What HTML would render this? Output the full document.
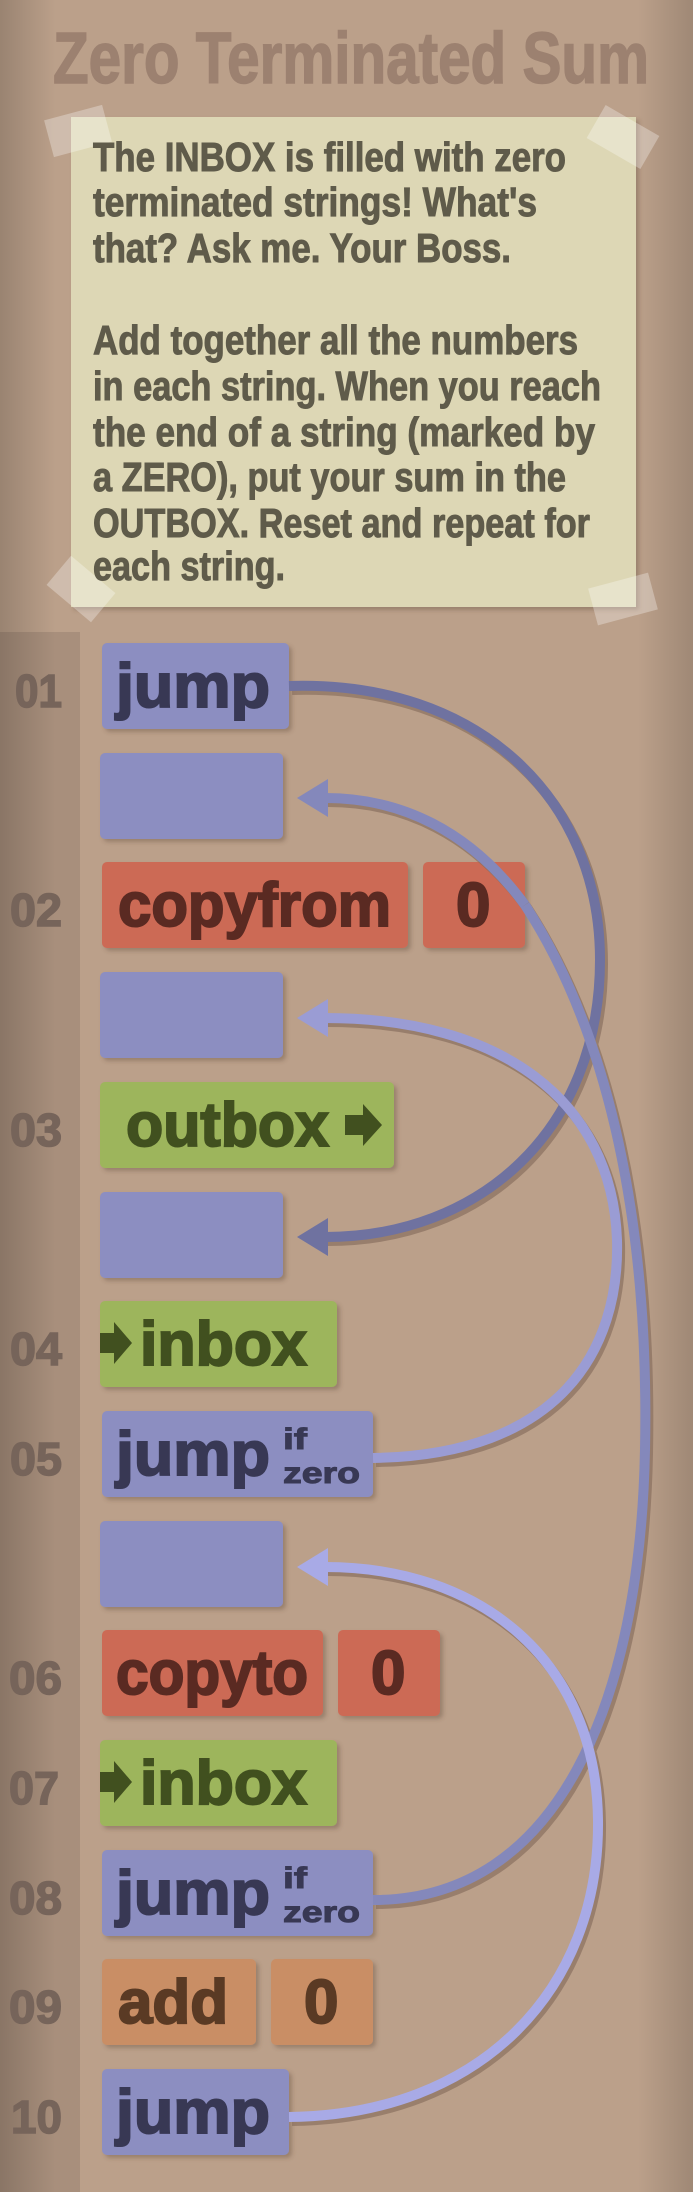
<!DOCTYPE html>
<html><head><meta charset="utf-8"><style>
html,body{margin:0;padding:0;background:#bba08a;}
svg{display:block;}
text{font-family:"Liberation Sans",sans-serif;font-weight:bold;}
</style></head><body>
<svg width="693" height="2192" viewBox="0 0 693 2192" xmlns="http://www.w3.org/2000/svg">
<defs>
<linearGradient id="lv" x1="0" x2="1" y1="0" y2="0">
<stop offset="0" stop-color="#000" stop-opacity="0.18"/><stop offset="0.08" stop-color="#000" stop-opacity="0"/>
<stop offset="0.92" stop-color="#000" stop-opacity="0"/><stop offset="1" stop-color="#000" stop-opacity="0.15"/>
</linearGradient>
<filter id="sh" x="-10%" y="-10%" width="130%" height="140%"><feDropShadow dx="3" dy="3" stdDeviation="2" flood-color="#5a4030" flood-opacity="0.35"/></filter>
</defs>
<rect width="693" height="2192" fill="#bba08a"/>
<rect x="0" y="632" width="80" height="1560" fill="#a88f7c"/>
<rect width="693" height="2192" fill="url(#lv)"/>
<text x="53" y="83" font-size="72" fill="#9c8170" stroke="#9c8170" stroke-width="1.5" textLength="596" lengthAdjust="spacingAndGlyphs">Zero Terminated Sum</text>
<rect x="71" y="117" width="565" height="490" fill="#ddd7b5" filter="url(#sh)"/>
<g fill="#fff" fill-opacity="0.3">
<rect x="48" y="112" width="60" height="38" transform="rotate(-15 78 131)"/>
<rect x="592" y="118" width="62" height="38" transform="rotate(30 623 137)"/>
<rect x="52" y="570" width="58" height="38" transform="rotate(40 81 589)"/>
<rect x="592" y="580" width="62" height="38" transform="rotate(-15 623 599)"/>
</g>
<g fill="#5f5b4a" stroke="#5f5b4a" stroke-width="1" font-size="41">
<text x="93" y="171" textLength="473" lengthAdjust="spacingAndGlyphs">The INBOX is filled with zero</text>
<text x="93" y="216" textLength="444" lengthAdjust="spacingAndGlyphs">terminated strings! What's</text>
<text x="93" y="262" textLength="418" lengthAdjust="spacingAndGlyphs">that? Ask me. Your Boss.</text>
<text x="93" y="354" textLength="485" lengthAdjust="spacingAndGlyphs">Add together all the numbers</text>
<text x="93" y="400" textLength="508" lengthAdjust="spacingAndGlyphs">in each string. When you reach</text>
<text x="93" y="446" textLength="502" lengthAdjust="spacingAndGlyphs">the end of a string (marked by</text>
<text x="93" y="491" textLength="473" lengthAdjust="spacingAndGlyphs">a ZERO), put your sum in the</text>
<text x="93" y="537" textLength="497" lengthAdjust="spacingAndGlyphs">OUTBOX. Reset and repeat for</text>
<text x="93" y="580" textLength="192" lengthAdjust="spacingAndGlyphs">each string.</text>
</g>
<g fill="#76645a" stroke="#76645a" stroke-width="1.5" font-size="46">
<text x="15" y="707" textLength="47" lengthAdjust="spacingAndGlyphs">01</text>
<text x="10" y="926" textLength="52" lengthAdjust="spacingAndGlyphs">02</text>
<text x="10" y="1146" textLength="52" lengthAdjust="spacingAndGlyphs">03</text>
<text x="10" y="1365" textLength="52" lengthAdjust="spacingAndGlyphs">04</text>
<text x="10" y="1475" textLength="52" lengthAdjust="spacingAndGlyphs">05</text>
<text x="9" y="1694" textLength="53" lengthAdjust="spacingAndGlyphs">06</text>
<text x="9" y="1804" textLength="50" lengthAdjust="spacingAndGlyphs">07</text>
<text x="9" y="1914" textLength="53" lengthAdjust="spacingAndGlyphs">08</text>
<text x="9" y="2023" textLength="53" lengthAdjust="spacingAndGlyphs">09</text>
<text x="11" y="2133" textLength="51" lengthAdjust="spacingAndGlyphs">10</text>
</g>
<g filter="url(#sh)">
<rect x="102" y="643" width="187" height="86" rx="5" fill="#8c8ec1"/>
<rect x="100" y="753" width="183" height="86" rx="5" fill="#8c8ec1"/>
<rect x="102" y="862" width="306" height="86" rx="5" fill="#cc6a55"/>
<rect x="423" y="862" width="102" height="86" rx="5" fill="#cc6a55"/>
<rect x="100" y="972" width="183" height="86" rx="5" fill="#8c8ec1"/>
<rect x="100" y="1082" width="294" height="86" rx="5" fill="#9db55c"/>
<rect x="100" y="1192" width="183" height="86" rx="5" fill="#8c8ec1"/>
<rect x="100" y="1301" width="237" height="86" rx="5" fill="#9db55c"/>
<rect x="102" y="1411" width="271" height="86" rx="5" fill="#8c8ec1"/>
<rect x="100" y="1521" width="183" height="86" rx="5" fill="#8c8ec1"/>
<rect x="102" y="1630" width="221" height="86" rx="5" fill="#cc6a55"/>
<rect x="338" y="1630" width="102" height="86" rx="5" fill="#cc6a55"/>
<rect x="100" y="1740" width="237" height="86" rx="5" fill="#9db55c"/>
<rect x="102" y="1850" width="271" height="86" rx="5" fill="#8c8ec1"/>
<rect x="102" y="1959" width="154" height="86" rx="5" fill="#c98e65"/>
<rect x="271" y="1959" width="102" height="86" rx="5" fill="#c98e65"/>
<rect x="102" y="2069" width="187" height="86" rx="5" fill="#8c8ec1"/>
</g>
<g font-size="62" stroke-width="2">
<text x="116" y="707" fill="#383854" stroke="#383854" textLength="154" lengthAdjust="spacingAndGlyphs">jump</text>
<text x="118" y="926" fill="#5a2a22" stroke="#5a2a22" textLength="273" lengthAdjust="spacingAndGlyphs">copyfrom</text>
<text x="456" y="926" fill="#5a2a22" stroke="#5a2a22">0</text>
<text x="126" y="1146" fill="#41501f" stroke="#41501f" textLength="203" lengthAdjust="spacingAndGlyphs">outbox</text>
<text x="140" y="1365" fill="#41501f" stroke="#41501f" textLength="167" lengthAdjust="spacingAndGlyphs">inbox</text>
<text x="116" y="1475" fill="#383854" stroke="#383854" textLength="154" lengthAdjust="spacingAndGlyphs">jump</text>
<text x="116" y="1694" fill="#5a2a22" stroke="#5a2a22" textLength="192" lengthAdjust="spacingAndGlyphs">copyto</text>
<text x="371" y="1694" fill="#5a2a22" stroke="#5a2a22">0</text>
<text x="140" y="1804" fill="#41501f" stroke="#41501f" textLength="167" lengthAdjust="spacingAndGlyphs">inbox</text>
<text x="116" y="1914" fill="#383854" stroke="#383854" textLength="154" lengthAdjust="spacingAndGlyphs">jump</text>
<text x="118" y="2023" fill="#5a3a24" stroke="#5a3a24" textLength="110" lengthAdjust="spacingAndGlyphs">add</text>
<text x="304" y="2023" fill="#5a3a24" stroke="#5a3a24">0</text>
<text x="116" y="2133" fill="#383854" stroke="#383854" textLength="154" lengthAdjust="spacingAndGlyphs">jump</text>
</g>
<g fill="#383854" stroke="#383854" stroke-width="1" font-size="30">
<text x="283" y="1449" textLength="24" lengthAdjust="spacingAndGlyphs">if</text>
<text x="283" y="1483" textLength="77" lengthAdjust="spacingAndGlyphs">zero</text>
<text x="283" y="1888" textLength="24" lengthAdjust="spacingAndGlyphs">if</text>
<text x="283" y="1922" textLength="77" lengthAdjust="spacingAndGlyphs">zero</text>
</g>
<g fill="#41501f">
<polygon points="345,1115 363,1115 363,1104 382,1125 363,1146 363,1135 345,1135"/>
<polygon points="100,1333 114,1333 114,1322 132,1343 114,1364 114,1353 100,1353"/>
<polygon points="100,1772 114,1772 114,1761 132,1782 114,1803 114,1792 100,1792"/>
</g>
<g fill="none" stroke-width="10" stroke-linecap="butt">
<g transform="translate(3,4)" stroke="#8a7060" opacity="0.7">
<path d="M289,686 C480,680 600,800 600,960 C600,1130 480,1237 325,1237"/>
<path d="M525,905 C600,1020 650,1200 645,1450 C640,1700 560,1900 373,1900"/>
<path d="M525,905 C470,830 400,798 325,798"/>
<path d="M373,1458 C560,1455 620,1350 617,1240 C612,1100 500,1018 325,1018"/>
<path d="M289,2117 C480,2115 600,1990 598,1820 C596,1660 480,1567 325,1567"/>
</g>
<path d="M525,905 C470,830 400,798 325,798" stroke="#8488bb"/>
<path d="M289,686 C480,680 600,800 600,960 C600,1130 480,1237 325,1237" stroke="#6f72a0"/>
<path d="M525,905 C600,1020 650,1200 645,1450 C640,1700 560,1900 373,1900" stroke="#8488bb"/>
<path d="M373,1458 C560,1455 620,1350 617,1240 C612,1100 500,1018 325,1018" stroke="#9a9cd4"/>
<path d="M289,2117 C480,2115 600,1990 598,1820 C596,1660 480,1567 325,1567" stroke="#a8aae6"/>
</g>
<polygon points="297,798 328,779 328,817" fill="#8488bb"/>
<polygon points="297,1237 328,1218 328,1256" fill="#6f72a0"/>
<polygon points="297,1018 328,999 328,1037" fill="#9a9cd4"/>
<polygon points="297,1567 328,1548 328,1586" fill="#a8aae6"/>
</svg>
</body></html>
